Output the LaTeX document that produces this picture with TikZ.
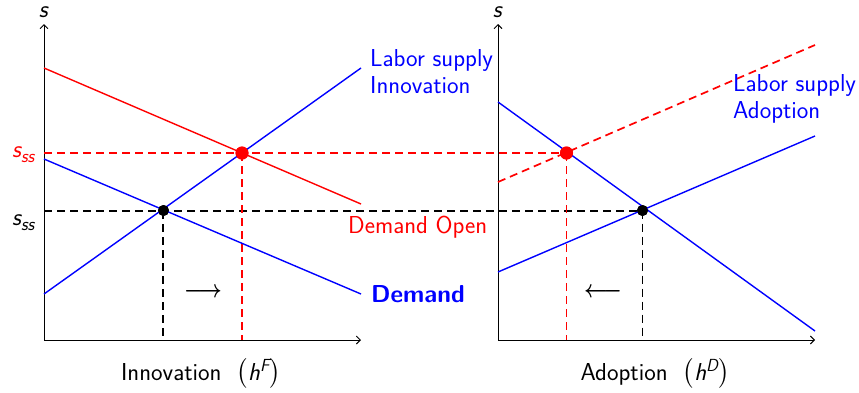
\documentclass[tikz,border=0pt]{standalone}
\usepackage{amsmath}
\usepackage{fontspec}
\usetikzlibrary{arrows.meta}
\newcommand{\sit}[1]{\textsf{\itshape #1}}
\newcommand{\sss}{{\itshape s\raisebox{-5pt}{\fontsize{18.5}{19}\selectfont ss}}}
\newcommand{\hsup}[1]{{\itshape h\raisebox{9pt}{\fontsize{17.5}{18}\selectfont #1}}}
\begin{document}
\begin{tikzpicture}[x=1pt,y=-1pt,
  font=\sffamily\fontsize{24.5}{27}\selectfont,
  axis/.style={line width=0.9pt,-{Straight Barb[length=4pt,width=8pt]}},
  curve/.style={line width=1.4pt},
  dsh/.style={line width=1.7pt,dash pattern=on 8pt off 5pt},
  dot/.style={circle,inner sep=0pt,minimum size=#1},
  lbl/.style={inner sep=0pt}]
\useasboundingbox (0,0) rectangle (859,392);
% ---------- left panel ----------
\coordinate (O1) at (44,340);
\coordinate (Y1) at (44,24);
\coordinate (X1) at (361,340);
\draw[axis] (O1) -- (Y1);
\draw[axis] (O1) -- (X1);
\node[lbl] (s1) at (44,12) {\sit{s}};
\coordinate (dA) at (44,68);
\coordinate (dB) at (361,204);
\coordinate (sA) at (44,294);
\coordinate (sB) at (361,68);
\coordinate (bA) at (44,159);
\coordinate (bB) at (361,294);
% ---------- right panel ----------
\coordinate (O2) at (498,340);
\coordinate (Y2) at (498,24);
\coordinate (X2) at (815,340);
\draw[axis] (O2) -- (Y2);
\draw[axis] (O2) -- (X2);
\node[lbl] (s2) at (498,12) {\sit{s}};
\coordinate (rdA) at (498,102);
\coordinate (rdB) at (815,331);
\coordinate (rsA) at (498,272);
\coordinate (rsB) at (815,136);
\coordinate (rrA) at (498,182);
\coordinate (rrB) at (815,45);
% dots
\node[dot=13pt,fill=red] (RD1) at (242,153) {};
\node[dot=11pt,fill=black] (BD1) at (163.5,210.5) {};
\node[dot=13pt,fill=red] (RD2) at (566.5,153) {};
\node[dot=11pt,fill=black] (BD2) at (642.5,210.5) {};
% dashed guides
\coordinate (hr0) at (44,153);
\coordinate (hb0) at (44,211);
\coordinate (hb1) at (642.5,211);
\coordinate (vr1) at (242,340);
\coordinate (vb0) at (163,211);
\coordinate (vb1) at (163,340);
\coordinate (vr2) at (566.5,340);
\coordinate (vb2) at (642.5,340);
\draw[dsh,red] (hr0) -- (RD2.center);
\draw[dsh,black] (hb0) -- (hb1);
\draw[dsh,red] (RD1.center) -- (vr1);
\draw[dsh,black] (vb0) -- (vb1);
\draw[dsh,red] (RD2.center) -- (vr2);
\draw[dsh,black] (BD2.center) -- (vb2);
% curves
\draw[curve,red] (dA) -- (dB);
\draw[curve,blue] (sA) -- (sB);
\draw[curve,blue] (bA) -- (bB);
\draw[curve,blue] (rdA) -- (rdB);
\draw[curve,blue] (rsA) -- (rsB);
\draw[dsh,red] (rrA) -- (rrB);
% redraw dots on top
\node[dot=13pt,fill=red] at (RD1) {};
\node[dot=11pt,fill=black] at (BD1) {};
\node[dot=13pt,fill=red] at (RD2) {};
\node[dot=11pt,fill=black] at (BD2) {};
% labels
\node[lbl,red,anchor=base west] (ssr) at (12,157) {\sss};
\node[lbl,anchor=base west] (ssb) at (12,225) {\sss};
\node[lbl,blue,anchor=base west,align=left] (ls1) at (370,93) {Labor supply\\Innovation};
\node[lbl,red,anchor=base west] (dop) at (348,233) {Demand Open};
\node[lbl,blue,anchor=base west,font=\sffamily\bfseries\fontsize{24.5}{27}\selectfont] (dem) at (371,302) {Demand};
\node[lbl,blue,anchor=base west,align=left] (ls2) at (733,118) {Labor supply\\Adoption};
\node[lbl,anchor=base] (xl1) at (201,380) {Innovation \ $\bigl($\hsup{F}$\bigr)$};
\node[lbl,anchor=base] (xl2) at (655,380) {Adoption \ $\bigl($\hsup{D}$\bigr)$};
\node[lbl] (ar1) at (203,293) {\scalebox{0.82}[1]{$\boldsymbol{\longrightarrow}$}};
\node[lbl] (ar2) at (603,293) {\scalebox{0.82}[1]{$\boldsymbol{\longleftarrow}$}};
\end{tikzpicture}
\end{document}
